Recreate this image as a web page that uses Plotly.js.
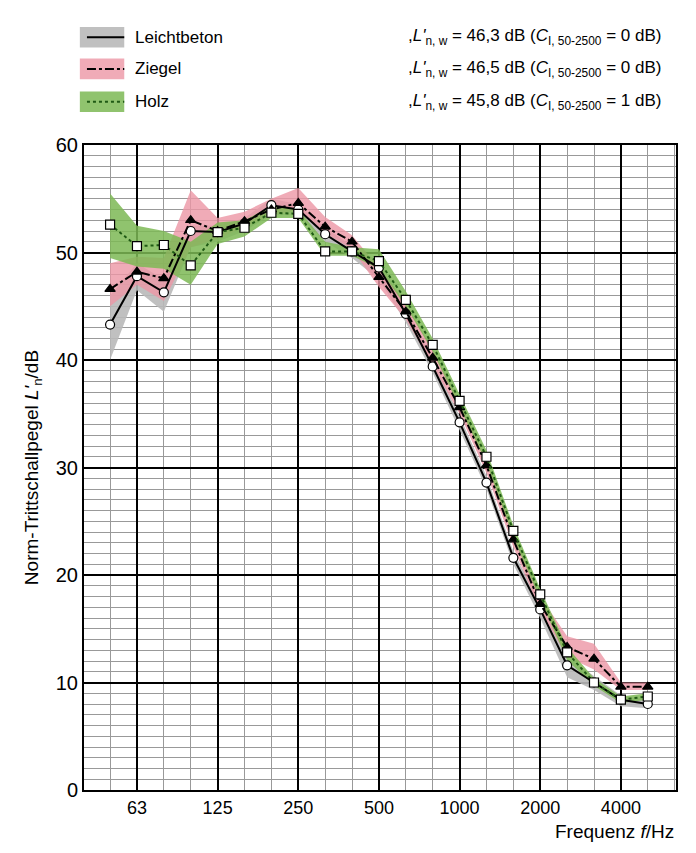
<!DOCTYPE html>
<html><head><meta charset="utf-8">
<script src="https://cdn.plot.ly/plotly-3.0.1.min.js"></script>
<style>body{margin:0;background:#fff}#chart{width:696px;height:853px}</style>
</head><body><div id="chart"></div>
<script>
const bands = [50,63,80,100,125,160,200,250,315,400,500,630,800,1000,1250,1600,2000,2500,3150,4000,5000];
const tickBands = [63,125,250,500,1000,2000,4000];

const leichtbeton = [43.3,47.8,46.3,52,51.9,52.7,54.4,54,51.7,50.1,48.6,44.3,39.4,34.2,28.6,21.6,16.8,11.6,10,8.4,8];
const ziegel = [46.6,48.2,47.6,53,52,52.9,54,54.6,52.4,51,47.7,44.5,40.2,35.6,30.2,23.3,17.3,13.3,12.2,9.6,9.6];
const holz = [52.6,50.6,50.7,48.8,51.9,52.3,53.7,53.6,50.1,50.1,49.2,45.6,41.4,36.2,31,24.1,18.2,12.8,10,8.4,8.7];

const leichtLow = [40,46.5,44.5,50.5,51,52,53.5,53.5,51,49.5,47.5,43.5,38.8,33.5,28,21,16,10.5,9.3,7.8,7.6];
const leichtHigh = [46,49,47.5,52.5,52.5,53.2,55,54.5,52.3,50.6,49.2,45,40,34.8,29.2,22.2,17.4,12.4,10.6,8.8,8.4];
const ziegelLow = [45,47,45.5,50.5,51.3,52.4,53.5,53.9,51.8,50.3,46.8,43.8,39.5,35,29.5,22.6,16.7,12.4,11.2,9.3,9.3];
const ziegelHigh = [49,49.6,49.5,55.8,53.2,53.8,55,56,53.3,51.6,48.6,45.3,41,36.2,30.8,24,18,14.3,13.6,10,10];
const holzLow = [49.5,48.7,48.5,47,50.8,51.5,53.2,53.2,49.7,49.7,48.5,45,40.8,35.6,30.4,23.5,17.7,12.1,9.7,8.1,8.4];
const holzHigh = [55.5,52.5,52,51,52.8,53,54.3,54,51,50.5,50.3,46.4,42,36.8,31.6,24.6,18.7,13.3,10.4,8.7,9];

const legendNames = ["Leichtbeton","Ziegel","Holz"];
const legendValues = ["46,3","46,5","45,8"];
const legendC = ["0","0","1"];

const xs = bands.map((b, i) => i);
const fills = ["rgba(185,185,185,0.9)","rgba(236,150,165,0.8)","rgba(125,185,85,0.85)"];
const lineColors = ["#000","#000","#1f5a14"];
const series = [
  {y: leichtbeton, lo: leichtLow, hi: leichtHigh, dash: "solid", sym: "circle", fill: "#fff"},
  {y: ziegel, lo: ziegelLow, hi: ziegelHigh, dash: "dashdot", sym: "triangle-up", fill: "#000"},
  {y: holz, lo: holzLow, hi: holzHigh, dash: "dot", sym: "square", fill: "#fff"},
];

const traces = [];
series.forEach((s, k) => {
  traces.push({x: xs, y: s.lo, mode: "lines", line: {width: 0}, showlegend: false, hoverinfo: "skip"});
  traces.push({x: xs, y: s.hi, mode: "lines", line: {width: 0}, fill: "tonexty", fillcolor: fills[k], showlegend: false, hoverinfo: "skip"});
});
series.forEach((s, k) => {
  traces.push({
    x: xs, y: s.y, mode: "lines+markers", name: legendNames[k], showlegend: false,
    line: {color: lineColors[k], width: 2, dash: s.dash},
    marker: {symbol: s.sym, size: 9, color: s.fill, line: {color: "#000", width: 1.2}},
  });
});

// manual legend above the plot (paper coords)
const shapes = [];
const annotations = [];
const rowY = [1.167, 1.118, 1.067];
const mx0 = 0.005, mx1 = 0.068;
legendNames.forEach((n, k) => {
  const y = rowY[k];
  shapes.push({type: "rect", xref: "paper", yref: "paper", x0: -0.007, x1: 0.068, y0: y - 0.016, y1: y + 0.016, fillcolor: fills[k], line: {width: 0}, layer: "below"});
  shapes.push({type: "line", xref: "paper", yref: "paper", x0: mx0, x1: mx1, y0: y, y1: y, line: {color: lineColors[k], width: 2, dash: series[k].dash}});
  annotations.push({xref: "paper", yref: "paper", x: 0.082, y: y, xanchor: "left", yanchor: "middle", showarrow: false, text: n, font: {size: 17}});
  annotations.push({xref: "paper", yref: "paper", x: 0.978, y: y, xanchor: "right", yanchor: "middle", showarrow: false,
    text: ",<i>L'</i><sub>n, w</sub> = " + legendValues[k] + " dB (<i>C</i><sub>I, 50-2500</sub> = " + legendC[k] + " dB)", font: {size: 17}});
});
traces.push({
  x: [mx0, mx1, mx0, mx1, mx0, mx1], y: [rowY[0], rowY[0], rowY[1], rowY[1], rowY[2], rowY[2]],
  xaxis: "x2", yaxis: "y2", mode: "markers", showlegend: false, hoverinfo: "skip", cliponaxis: false,
  marker: {symbol: ["circle","circle","triangle-up","triangle-up","square","square"], size: 9,
    color: ["#fff","#fff","#000","#000","#fff","#fff"], line: {color: "#000", width: 1.2}},
});
annotations.push({xref: "paper", yref: "paper", x: 1.0, y: -0.065, xanchor: "right", yanchor: "middle", showarrow: false,
  text: "Frequenz <i>f</i>/Hz", font: {size: 19}});

const layout = {
  width: 696, height: 853,
  margin: {l: 84, r: 20, t: 145, b: 63},
  paper_bgcolor: "#fff", plot_bgcolor: "#fff",
  font: {family: "Liberation Sans, Arial, sans-serif", color: "#000"},
  showlegend: false,
  xaxis: {
    range: [-0.97, 21.05], tickmode: "array",
    tickvals: tickBands.map(b => bands.indexOf(b)), ticktext: tickBands.map(String),
    showgrid: true, gridcolor: "#000", gridwidth: 2,
    minor: {dtick: 1, tick0: 0, showgrid: true, gridcolor: "#999", gridwidth: 1},
    showline: true, mirror: true, linecolor: "#000", linewidth: 2,
    ticks: "", tickfont: {size: 18}, zeroline: false,
  },
  yaxis: {
    range: [0, 60], dtick: 10, showgrid: true, gridcolor: "#000", gridwidth: 2,
    minor: {dtick: 1, showgrid: true, gridcolor: "#999", gridwidth: 1},
    showline: true, mirror: true, linecolor: "#000", linewidth: 2,
    ticks: "", tickfont: {size: 20}, zeroline: false,
    title: {text: "Norm-Trittschallpegel <i>L'</i><sub>n</sub>/dB", font: {size: 19}, standoff: 12},
  },
  xaxis2: {range: [0, 1], visible: false, overlaying: "x", anchor: "y2"},
  yaxis2: {range: [0, 1], visible: false, overlaying: "y", anchor: "x2"},
  shapes, annotations,
};
Plotly.newPlot("chart", traces, layout, {displayModeBar: false});
</script>
</body></html>
